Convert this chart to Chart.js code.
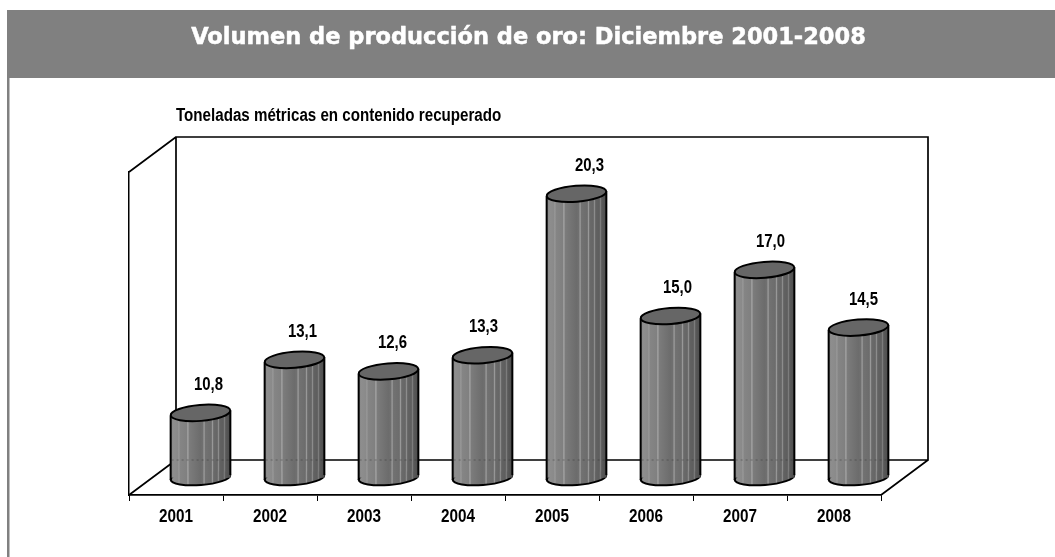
<!DOCTYPE html>
<html><head><meta charset="utf-8">
<style>html,body{margin:0;padding:0;background:#fff}#w{position:absolute;left:0;top:0;width:1055px;height:557px}</style>
<script src="https://cdn.jsdelivr.net/npm/chart.js@4"></script></head>
<body><div id="w"><canvas id="c" width="1055" height="557"></canvas></div>
<script>
const categories = ['2001','2002','2003','2004','2005','2006','2007','2008'];
const volumen = [10.8,13.1,12.6,13.3,20.3,15.0,17.0,14.5];
const valueLabels = ['10,8','13,1','12,6','13,3','20,3','15,0','17,0','14,5'];
const titleText = 'Volumen de producción de oro: Diciembre 2001-2008';
const unitText = 'Toneladas métricas en contenido recuperado';
const DEPTH_X = 47, DEPTH_Y = 35, RY = 8, TILT = -0.08;
const labelDx = [8,8,4,1,13,7,6,5];
const SANS = '"Liberation Sans"';

function cylGradient(ctx, l, r){
  const g = ctx.createLinearGradient(l,0,r,0);
  const stops = [[0,'#7a7a7a'],[.04,'#8e8e8e'],[.12,'#8a8a8a'],[.14,'#9a9a9a'],[.16,'#858585'],[.27,'#808080'],[.29,'#a8a8a8'],[.31,'#7c7c7c'],[.5,'#6c6c6c'],[.54,'#707070'],[.56,'#a0a0a0'],[.58,'#727272'],[.68,'#6c6c6c'],[.7,'#989898'],[.72,'#6a6a6a'],[.78,'#666'],[.8,'#8c8c8c'],[.82,'#626262'],[.88,'#5e5e5e'],[.9,'#7c7c7c'],[.92,'#5a5a5a'],[1,'#4c4c4c']];
  stops.forEach(s=>g.addColorStop(s[0],s[1]));
  return g;
}
function squeezedText(c,text,x,y,sx){
  c.save(); c.translate(x,y); c.scale(sx,1); c.fillText(text,0,0); c.restore();
}
const cylPlugin = {
  id:'cyl',
  beforeDraw(chart){
    const c = chart.ctx;
    c.save();
    c.fillStyle='#fff'; c.fillRect(0,0,1055,557);
    c.fillStyle='#808080'; c.fillRect(7,10,1048,68);
    c.fillRect(7,78,2.5,479);
    c.fillStyle='#fff'; c.strokeStyle='#fff'; c.lineWidth=0.5; c.font='bold 22.5px "DejaVu Sans"'; c.textAlign='center'; c.textBaseline='middle';
    c.fillText(titleText,528.5,38);
    c.strokeText(titleText,528.5,38);
    c.fillStyle='#000'; c.font='bold 17.5px '+SANS; c.textAlign='left';
    squeezedText(c,unitText,176,116,0.865);
    c.restore();
  },
  beforeDatasetsDraw(chart){
    const a = chart.chartArea, c = chart.ctx;
    c.save();
    c.strokeStyle='#000'; c.lineWidth=1.7;
    c.beginPath();
    c.rect(a.left+DEPTH_X,a.top-DEPTH_Y,a.right-a.left,a.bottom-a.top);
    c.moveTo(a.left,a.top); c.lineTo(a.left+DEPTH_X,a.top-DEPTH_Y);
    c.moveTo(a.left,a.bottom); c.lineTo(a.left+DEPTH_X,a.bottom-DEPTH_Y);
    c.moveTo(a.right,a.bottom); c.lineTo(a.right+DEPTH_X,a.bottom-DEPTH_Y);
    c.stroke();
    c.restore();
  },
  beforeDatasetDraw(chart,args){
    const c = chart.ctx;
    c.save();
    c.translate(DEPTH_X/2+1,-DEPTH_Y/2);
    args.meta.data.forEach(b=>{
      const l=b.x-b.width/2, r=b.x+b.width/2;
      c.beginPath();
      c.ellipse(b.x,b.base,b.width/2,RY-0.5,TILT,0,Math.PI*2);
      c.fillStyle=cylGradient(c,l,r); c.fill();
      c.strokeStyle='#000'; c.lineWidth=2; c.stroke();
    });
  },
  afterDatasetDraw(chart,args){
    const c = chart.ctx;
    const backY = chart.chartArea.bottom-DEPTH_Y/2;
    args.meta.data.forEach((b,i)=>{
      const l=b.x-b.width/2, r=b.x+b.width/2;
      c.fillStyle=cylGradient(c,l,r);
      c.fillRect(l,b.base-6,r-l,6);
      c.strokeStyle='#000'; c.lineWidth=2;
      c.beginPath(); c.moveTo(l,b.y+2.5); c.lineTo(l,b.base+2.5); c.moveTo(r,b.y-2.5); c.lineTo(r,b.base-2.5); c.stroke();
      c.save(); c.setLineDash([2,3]); c.strokeStyle='rgba(40,40,40,.4)'; c.lineWidth=1;
      c.beginPath(); c.moveTo(l+1,backY); c.lineTo(r-1,backY); c.stroke(); c.restore();
      c.beginPath();
      c.ellipse(b.x,b.y,b.width/2,RY,TILT,0,Math.PI*2);
      c.fillStyle='#666'; c.fill();
      c.strokeStyle='#000'; c.lineWidth=2; c.stroke();
    });
    c.restore();
    c.save();
    c.fillStyle='#000'; c.font='bold 18px '+SANS; c.textAlign='center'; c.textBaseline='middle';
    args.meta.data.forEach((b,i)=>{
      squeezedText(c,valueLabels[i], b.x+DEPTH_X/2+1+labelDx[i], b.y-DEPTH_Y/2-28, 0.83);
    });
    c.restore();
  }
};
new Chart(document.getElementById('c'),{
  type:'bar',
  data:{labels:categories,datasets:[{
    data:volumen,
    base:8,
    clip:false,
    backgroundColor(ctx){
      const ch=ctx.chart;
      if(!ch.chartArea||ctx.dataIndex===undefined) return '#777';
      const x=ch.scales.x.getPixelForValue(ctx.dataIndex);
      return cylGradient(ch.ctx,x-30,x+30);
    },
    borderWidth:0,
    categoryPercentage:1,
    barPercentage:0.635
  }]},
  options:{
    responsive:false,animation:false,
    layout:{padding:{left:129,right:174,top:172,bottom:34}},
    plugins:{legend:{display:false},tooltip:{enabled:false},title:{display:false}},
    scales:{
      x:{
        offset:true,
        grid:{display:true,offset:true,drawOnChartArea:false,drawTicks:true,tickLength:6,color:'#000'},
        border:{color:'#000',width:1.7},
        ticks:{color:'#000',font:{family:SANS,size:18,weight:'bold'},padding:5,maxRotation:0},
        afterFit(s){
          s.height=28;
          s.drawLabels=function(area){
            const c=this.ctx;
            this.getLabelItems(area).forEach(it=>{
              const t=it.options.translation;
              c.save(); c.translate(t[0],t[1]); c.scale(0.85,1);
              c.font=it.font.string; c.fillStyle=it.color; c.textAlign='center'; c.textBaseline='middle';
              c.fillText(it.label,0,it.font.lineHeight/2);
              c.restore();
            });
          };
        }
      },
      y:{
        min:8,max:22,
        grid:{display:false},
        border:{color:'#000',width:1.5},
        ticks:{display:false},
        afterFit(s){s.width=0;}
      }
    }
  },
  plugins:[cylPlugin]
});
</script></body></html>
